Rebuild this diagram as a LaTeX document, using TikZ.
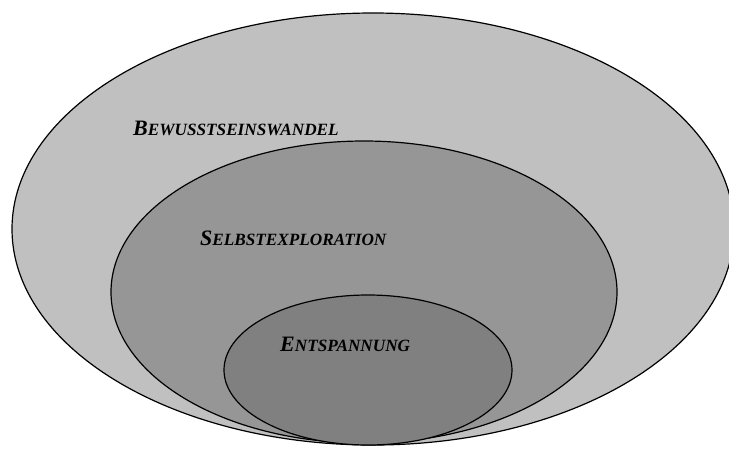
\documentclass[tikz,border=0pt]{standalone}
\usepackage{fontspec}
\setmainfont{Liberation Serif}
\definecolor{outergray}{RGB}{192,192,192}
\definecolor{middlegray}{RGB}{150,150,150}
\definecolor{innergray}{RGB}{128,128,128}
\newcommand{\capword}[2]{{\fontsize{22}{22}\selectfont #1}{\fontsize{17.2}{17.2}\selectfont #2}}
\begin{document}
\begin{tikzpicture}[x=1pt, y=-1pt]
\tikzset{ring/.style={draw=black, line width=1.2pt},
  lbl/.style={anchor=base west, inner sep=0pt, font=\bfseries\itshape}}
\useasboundingbox (0,0) rectangle (729,448);

% Ellipses
\filldraw[ring, fill=outergray] (373,229) ellipse [x radius=361, y radius=216];
\filldraw[ring, fill=middlegray] (364,292) ellipse [x radius=253, y radius=151];
\filldraw[ring, fill=innergray] (368,370) ellipse [x radius=144, y radius=75];

% Labels
\node[lbl] (bewusst) at (133,135) {\capword{B}{EWUSSTSEINSWANDEL}};
\node[lbl] (selbst) at (200,245) {\capword{S}{ELBSTEXPLORATION}};
\node[lbl] (entsp) at (280,351) {\capword{E}{NTSPANNUNG}};
\end{tikzpicture}
\end{document}
